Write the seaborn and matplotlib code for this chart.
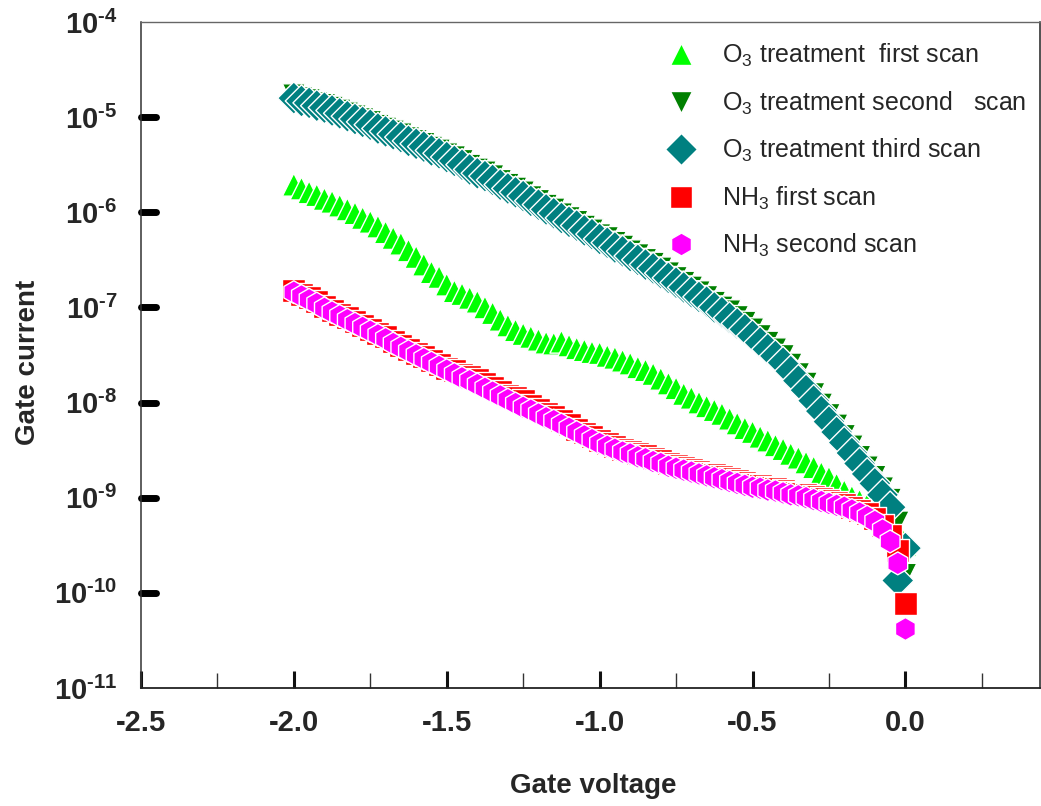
import numpy as np
import pandas as pd
import matplotlib
matplotlib.use("Agg")
import matplotlib.pyplot as plt
from matplotlib.lines import Line2D
from matplotlib.markers import MarkerStyle
from matplotlib.ticker import FixedLocator, FixedFormatter
import seaborn as sns

# Gate voltage sweep (V)
voltage = [
    -2.000, -1.975, -1.950, -1.925, -1.900, -1.875, -1.850, -1.825, -1.800,
    -1.775, -1.750, -1.725, -1.700, -1.675, -1.650, -1.625, -1.600, -1.575,
    -1.550, -1.525, -1.500, -1.475, -1.450, -1.425, -1.400, -1.375, -1.350,
    -1.325, -1.300, -1.275, -1.250, -1.225, -1.200, -1.175, -1.150, -1.125,
    -1.100, -1.075, -1.050, -1.025, -1.000, -0.975, -0.950, -0.925, -0.900,
    -0.875, -0.850, -0.825, -0.800, -0.775, -0.750, -0.725, -0.700, -0.675,
    -0.650, -0.625, -0.600, -0.575, -0.550, -0.525, -0.500, -0.475, -0.450,
    -0.425, -0.400, -0.375, -0.350, -0.325, -0.300, -0.275, -0.250, -0.225,
    -0.200, -0.175, -0.150, -0.125, -0.100, -0.075, -0.050, -0.025, 0.000,
]

# Gate current, given as log10(I / A)
o3_first_log = [
    -5.71, -5.75, -5.79, -5.82, -5.86, -5.89, -5.93, -5.97, -6.01, -6.06,
    -6.10, -6.15, -6.21, -6.27, -6.33, -6.40, -6.47, -6.55, -6.63, -6.68,
    -6.76, -6.83, -6.86, -6.90, -6.94, -7.00, -7.06, -7.13, -7.19, -7.24,
    -7.28, -7.31, -7.34, -7.37, -7.38, -7.36, -7.40, -7.43, -7.45, -7.47,
    -7.48, -7.51, -7.53, -7.56, -7.59, -7.63, -7.66, -7.70, -7.75, -7.80,
    -7.85, -7.91, -7.95, -8.00, -8.04, -8.08, -8.12, -8.17, -8.22, -8.27,
    -8.31, -8.36, -8.40, -8.45, -8.49, -8.54, -8.58, -8.63, -8.68, -8.74,
    -8.79, -8.86, -8.93, -8.99, -9.03, -9.07, -9.11, -9.17, -9.23, -9.34,
    -9.50,
]
o3_second_log = [
    -4.77, -4.80, -4.82, -4.85, -4.87, -4.90, -4.93, -4.96, -4.99, -5.02,
    -5.05, -5.09, -5.12, -5.15, -5.18, -5.22, -5.25, -5.28, -5.32, -5.35,
    -5.39, -5.42, -5.46, -5.51, -5.55, -5.58, -5.62, -5.67, -5.71, -5.75,
    -5.79, -5.84, -5.88, -5.93, -5.97, -6.02, -6.06, -6.10, -6.15, -6.19,
    -6.24, -6.27, -6.32, -6.36, -6.41, -6.45, -6.50, -6.54, -6.59, -6.64,
    -6.69, -6.74, -6.79, -6.84, -6.89, -6.95, -7.00, -7.04, -7.10, -7.16,
    -7.23, -7.30, -7.37, -7.44, -7.51, -7.60, -7.70, -7.80, -7.91, -8.02,
    -8.13, -8.24, -8.35, -8.46, -8.57, -8.68, -8.78, -8.90, -9.02, -9.26,
    -9.81,
]
o3_third_log = [
    -4.80, -4.83, -4.85, -4.88, -4.90, -4.93, -4.96, -4.99, -5.02, -5.05,
    -5.08, -5.12, -5.15, -5.18, -5.21, -5.25, -5.28, -5.31, -5.35, -5.38,
    -5.42, -5.46, -5.50, -5.55, -5.59, -5.62, -5.66, -5.71, -5.75, -5.79,
    -5.83, -5.88, -5.92, -5.97, -6.01, -6.06, -6.10, -6.14, -6.19, -6.23,
    -6.28, -6.32, -6.37, -6.41, -6.46, -6.50, -6.55, -6.59, -6.64, -6.69,
    -6.74, -6.79, -6.84, -6.89, -6.94, -7.00, -7.05, -7.11, -7.17, -7.23,
    -7.30, -7.37, -7.44, -7.51, -7.58, -7.67, -7.77, -7.87, -7.98, -8.09,
    -8.20, -8.31, -8.42, -8.53, -8.64, -8.75, -8.85, -8.97, -9.10, -9.87,
    -9.53,
]
nh3_first_log = [
    -6.82, -6.86, -6.90, -6.94, -6.99, -7.03, -7.07, -7.11, -7.15, -7.19,
    -7.23, -7.27, -7.31, -7.36, -7.40, -7.44, -7.48, -7.52, -7.56, -7.60,
    -7.64, -7.66, -7.70, -7.73, -7.76, -7.80, -7.84, -7.88, -7.92, -7.95,
    -7.98, -8.03, -8.07, -8.11, -8.15, -8.19, -8.23, -8.28, -8.32, -8.36,
    -8.40, -8.43, -8.46, -8.49, -8.51, -8.54, -8.56, -8.59, -8.61, -8.64,
    -8.66, -8.68, -8.70, -8.72, -8.74, -8.76, -8.78, -8.80, -8.82, -8.84,
    -8.86, -8.87, -8.89, -8.90, -8.92, -8.94, -8.95, -8.97, -8.99, -9.01,
    -9.03, -9.05, -9.07, -9.10, -9.13, -9.17, -9.22, -9.29, -9.40, -9.55,
    -10.11,
]
nh3_second_log = [
    -6.84, -6.88, -6.92, -6.96, -7.01, -7.05, -7.09, -7.13, -7.17, -7.21,
    -7.25, -7.29, -7.33, -7.38, -7.42, -7.46, -7.50, -7.54, -7.58, -7.62,
    -7.66, -7.70, -7.74, -7.77, -7.81, -7.85, -7.89, -7.93, -7.97, -8.01,
    -8.05, -8.08, -8.12, -8.16, -8.19, -8.23, -8.27, -8.31, -8.35, -8.39,
    -8.43, -8.46, -8.49, -8.52, -8.54, -8.57, -8.59, -8.62, -8.64, -8.67,
    -8.69, -8.71, -8.73, -8.75, -8.77, -8.79, -8.81, -8.83, -8.85, -8.87,
    -8.89, -8.90, -8.92, -8.93, -8.95, -8.97, -8.98, -9.00, -9.02, -9.04,
    -9.06, -9.08, -9.10, -9.13, -9.16, -9.20, -9.25, -9.34, -9.46, -9.69,
    -10.38,
]

series_labels = [
    "O$_3$ treatment  first scan",
    "O$_3$ treatment second   scan",
    "O$_3$ treatment third scan",
    "NH$_3$ first scan",
    "NH$_3$ second scan",
]
series_logs = [o3_first_log, o3_second_log, o3_third_log, nh3_first_log, nh3_second_log]
series_colors = ["#00ff00", "#008000", "#008080", "#ff0000", "#ff00ff"]
series_markers = ["^", "v", "D", "s", "h"]

x_ticks = [-2.5, -2.0, -1.5, -1.0, -0.5, 0.0]
x_minor_ticks = [-2.25, -1.75, -1.25, -0.75, -0.25, 0.25]
y_ticks = [1e-11, 1e-10, 1e-9, 1e-8, 1e-7, 1e-6, 1e-5, 1e-4]
y_tick_labels = [r"$10^{\text{-11}}$", r"$10^{\text{-10}}$", r"$10^{\text{-9}}$",
                 r"$10^{\text{-8}}$", r"$10^{\text{-7}}$", r"$10^{\text{-6}}$",
                 r"$10^{\text{-5}}$", r"$10^{\text{-4}}$"]

frames = []
for label, logs in zip(series_labels, series_logs):
    frames.append(pd.DataFrame({
        "Gate voltage": voltage,
        "Gate current": 10.0 ** np.asarray(logs),
        "series": label,
    }))
data = pd.concat(frames, ignore_index=True)

sns.set_style("white")
plt.rcParams["font.family"] = ["Liberation Sans", "DejaVu Sans"]
plt.rcParams["mathtext.fontset"] = "custom"
# \text{} pieces (tick exponents) use the rm face; everything else follows the text font
plt.rcParams["mathtext.rm"] = "Liberation Sans:bold"
plt.rcParams["mathtext.bf"] = "Liberation Sans:bold"
plt.rcParams["mathtext.default"] = "regular"
plt.rcParams["axes.unicode_minus"] = False

fig = plt.figure(figsize=(10.41, 8.06), dpi=100)
ax = fig.add_axes([0.1354, 0.1464, 0.8636, 0.8263])

marker_size = 16.5
sns.scatterplot(
    data=data, x="Gate voltage", y="Gate current",
    hue="series", style="series",
    hue_order=series_labels, style_order=series_labels,
    palette=dict(zip(series_labels, series_colors)),
    markers=dict(zip(series_labels, series_markers)),
    s=marker_size ** 2, edgecolor="white", linewidth=1.0,
    legend=False, ax=ax, zorder=3,
)

ax.set_yscale("log")
ax.set_xlim(-2.5, 0.44)
ax.set_ylim(1e-11, 1e-4)

ax.xaxis.set_major_locator(FixedLocator(x_ticks))
ax.xaxis.set_minor_locator(FixedLocator(x_minor_ticks))
ax.set_xticklabels([f"{v:.1f}" for v in x_ticks])
ax.yaxis.set_major_locator(FixedLocator(y_ticks))
ax.yaxis.set_major_formatter(FixedFormatter(y_tick_labels))
ax.yaxis.set_minor_locator(FixedLocator([]))

ax.tick_params(axis="x", which="both", bottom=True, top=False)
ax.tick_params(axis="y", which="both", left=True, right=False)
ax.tick_params(axis="x", which="major", direction="in", length=12, width=2.2,
               color="#111111", pad=15, labelsize=21)
ax.tick_params(axis="x", which="minor", direction="in", length=11, width=1.0,
               color="#333333")
ax.tick_params(axis="y", which="major", direction="in", length=10.8, width=5,
               color="black", pad=17, labelsize=21)
for lab in ax.get_xticklabels() + ax.get_yticklabels():
    lab.set_fontweight("bold")

for side, col, lw in [("left", "#333333", 1.1), ("bottom", "#222222", 1.3),
                      ("top", "#666666", 1.0), ("right", "#222222", 1.1)]:
    ax.spines[side].set_visible(True)
    ax.spines[side].set_color(col)
    ax.spines[side].set_linewidth(lw)

ax.set_xlabel("Gate voltage", fontsize=20, fontweight="bold")
ax.set_ylabel("Gate current", fontsize=20, fontweight="bold")
ax.xaxis.set_label_coords(0.503, -0.127)
ax.yaxis.set_label_coords(-0.111, 0.489)

handles = [
    Line2D([], [], linestyle="none", marker=m, markersize=marker_size,
           markerfacecolor=c, markeredgecolor="white", markeredgewidth=1.0)
    for m, c in zip(series_markers, series_colors)
]
ax.legend(handles, series_labels, loc="upper left",
          bbox_to_anchor=(668 / 1041, 1 - 42 / 806),
          bbox_transform=fig.transFigure, frameon=False,
          fontsize=18, borderpad=0, borderaxespad=0,
          handlelength=1.0, handletextpad=1.14, labelspacing=0.81)

fig.canvas.draw()
ytl = ax.yaxis.get_major_ticks()
for tk in ytl:
    tk.tick1line.set_marker(MarkerStyle(tk.tick1line.get_marker(), capstyle="round"))
ytl[0].tick1line.set_visible(False)
ytl[-1].tick1line.set_visible(False)

fig.savefig("out.png", dpi=100)
